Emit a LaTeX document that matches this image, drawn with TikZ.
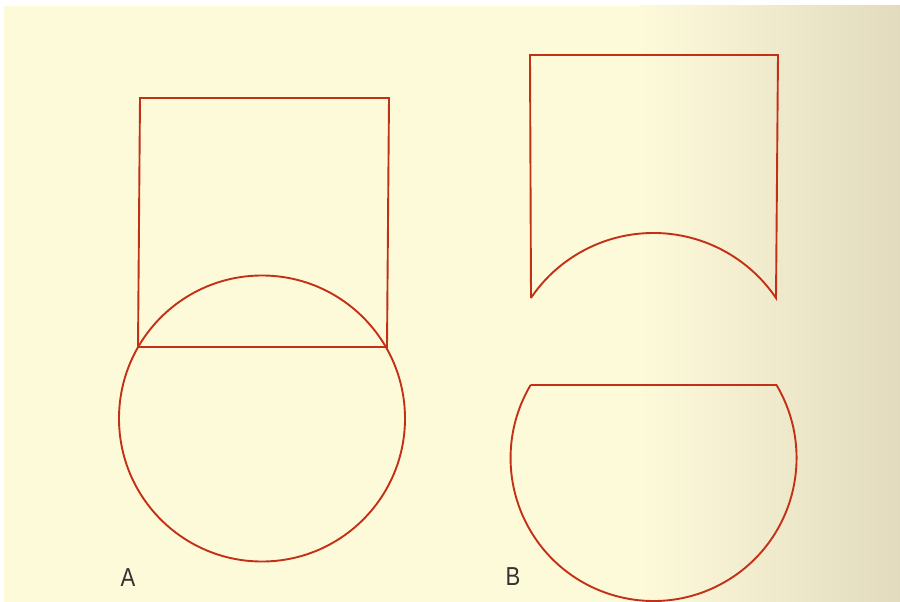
\documentclass[tikz,border=0pt]{standalone}
\usepackage{fontspec}
\setsansfont{Liberation Sans}
\definecolor{paper}{RGB}{253,250,218}
\definecolor{paperdark}{RGB}{226,219,190}
\definecolor{ink}{RGB}{196,48,22}
\begin{document}
\begin{tikzpicture}[x=1pt,y=-1pt]
\tikzset{cut/.style={draw=ink,line width=1.9pt,line join=miter},
  tag/.style={font=\sffamily\fontsize{26}{26}\selectfont,text=black!80,xscale=0.85}}
\useasboundingbox (0,0) rectangle (900,602);
\fill[white] (-2,-2) rectangle (902,604);
\fill[paper] (4,6) rectangle (902,604);
\shade[left color=paper,right color=paperdark] (640,6) rectangle (902,604);
% A: square and circle
\coordinate (A1) at (140,98);
\coordinate (A2) at (389,98);
\coordinate (A3) at (387,347);
\coordinate (A4) at (138,347);
\coordinate (OA) at (262,418.5);
\draw[cut] (A4) -- (A1) -- (A2) -- (A3) -- cycle;
\draw[cut] (OA) circle (143);
% B: the two pieces
\coordinate (B1) at (531,298);
\coordinate (B2) at (530,55);
\coordinate (B3) at (778,55);
\coordinate (B4) at (776,298);
\draw[cut] (B1) -- (B2) -- (B3) -- (B4) arc[start angle=-34.1,end angle=-145.9,radius=148];
\coordinate (C1) at (530.5,385);
\coordinate (C2) at (776.5,385);
\draw[cut] (C1) -- (C2) arc[start angle=-30.7,end angle=210.7,radius=143];
\node[tag] (labA) at (128,578) {A};
\node[tag] (labB) at (513,577) {B};
\end{tikzpicture}
\end{document}
